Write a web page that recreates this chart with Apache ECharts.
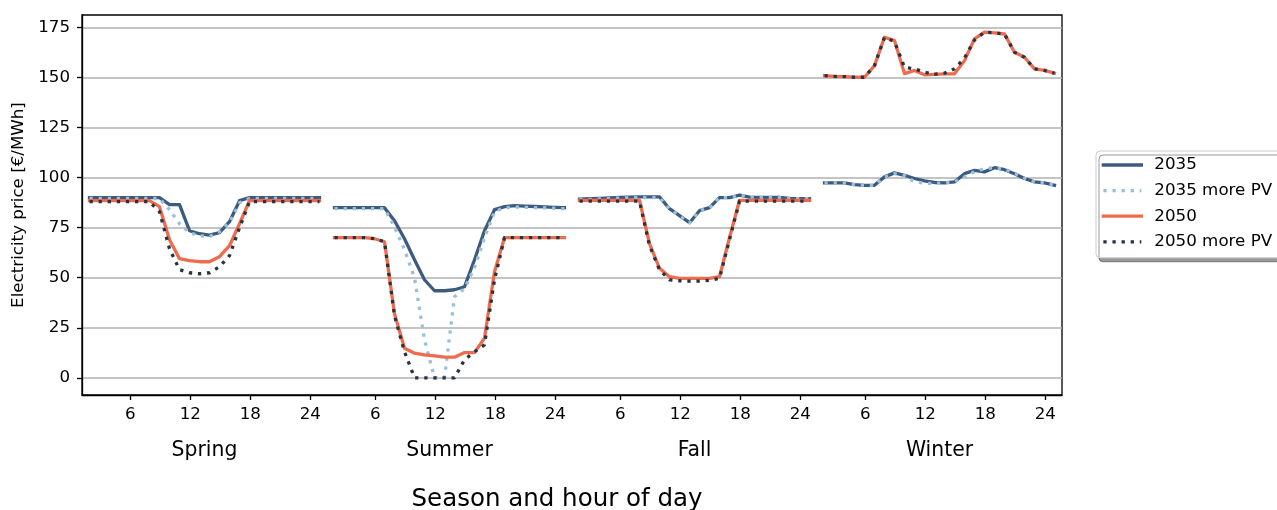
<!DOCTYPE html>
<html>
<head>
<meta charset="utf-8">
<script src="https://cdn.jsdelivr.net/npm/echarts@6/dist/echarts.min.js"></script>
<style>
html,body{margin:0;padding:0;background:#fff;}
#chart{width:1277px;height:510px;}
</style>
</head>
<body>
<div id="chart"></div>
<script>
// ---- data ----
const seasons = ['Spring', 'Summer', 'Fall', 'Winter'];
const tickHours = [6, 12, 18, 24];
const yTicks = [0, 25, 50, 75, 100, 125, 150, 175];
const seriesNames = ['2035', '2035 more PV', '2050', '2050 more PV'];

// hourly prices (24 values per season: Spring, Summer, Fall, Winter)
const price2035 = [
  [90, 90, 90, 90, 90, 90, 90, 90, 86.5, 86.5, 73.5, 72, 71.3, 72.5, 78, 88.5, 90, 90, 90, 90, 90, 90, 90, 90],
  [85, 85, 85, 85, 85, 85, 78.5, 69.5, 59, 49, 43.5, 43.5, 44, 45.5, 59, 73.5, 84, 85.5, 86, 85.8, 85.6, 85.4, 85.2, 85],
  [89.3, 89.5, 89.7, 89.9, 90.1, 90.3, 90.4, 90.4, 90.4, 84.5, 81, 77.5, 83.5, 85, 90, 90, 91.3, 90.3, 90.2, 90.2, 90.1, 89.6, 89.5, 89.5],
  [97.4, 97.4, 97.4, 96.5, 96.2, 96.2, 100.4, 102.4, 101.2, 99.6, 98.4, 97.6, 97.4, 97.9, 102, 103.7, 102.9, 105, 104, 102, 99.6, 97.9, 97.4, 96.2]
];
const price2035PV = [
  [89.6, 89.6, 89.6, 89.6, 89.6, 89.6, 89.6, 89.6, 84, 77, 72.5, 71, 70.5, 73, 77.5, 87.5, 89.6, 89.6, 89.6, 89.6, 89.6, 89.6, 89.6, 89.6],
  [84.5, 84.5, 84.5, 84.5, 84.5, 84.5, 75.5, 64, 50, 19, 0, 0, 40.5, 44.5, 55, 70, 83, 85, 85.3, 85.2, 85, 84.9, 84.7, 84.5],
  [89, 89.2, 89.4, 89.6, 89.8, 90, 90, 90, 90, 84.5, 81, 77.5, 83.5, 85, 90, 90, 91.3, 90.3, 90.2, 90.2, 90.1, 89.6, 89.5, 89.5],
  [97.4, 97.4, 97.4, 96.5, 96.2, 96.2, 100.4, 102, 101, 98, 97.2, 97.2, 97.4, 97.9, 100.4, 103, 104.5, 105, 104.2, 102.2, 99.8, 97.9, 97.4, 96.4]
];
const price2050 = [
  [88.5, 88.5, 88.5, 88.5, 88.5, 88.5, 88.5, 85.5, 69, 59.5, 58.5, 58, 58, 60.5, 66, 77, 88.5, 88.5, 88.5, 88.5, 88.5, 88.5, 88.5, 88.5],
  [70, 70, 70, 70, 69.5, 68, 32, 14.8, 12.3, 11.5, 11, 10.3, 10.3, 12.6, 12.6, 19.8, 53, 70, 70, 70, 70, 70, 70, 70],
  [88.7, 88.7, 88.7, 88.7, 88.7, 88.7, 88.7, 67, 54.7, 50.5, 49.7, 49.7, 49.7, 49.7, 50.5, 70, 88.7, 88.7, 88.7, 88.7, 88.7, 88.7, 88.7, 88.7],
  [151, 150.6, 150.5, 150.2, 150.2, 156, 170.2, 168.5, 152, 153.6, 151.4, 151.6, 151.9, 151.9, 158.5, 169.4, 172.7, 172.4, 171.8, 162.7, 160.2, 154.4, 153.6, 152.2]
];
const price2050PV = [
  [88, 88, 88, 88, 88, 88, 88, 83, 64.5, 54, 52.5, 52, 52.5, 55.5, 61, 75, 88, 88, 88, 88, 88, 88, 88, 88],
  [70, 70, 70, 70, 69.5, 68, 31, 13, 0, 0, 0, 0, 0, 9, 13, 16.5, 49, 70, 70, 70, 70, 70, 70, 70],
  [88.3, 88.3, 88.3, 88.3, 88.3, 88.3, 88.3, 66, 54, 49, 48.5, 48.3, 48.3, 48.7, 49.7, 69, 88.3, 88.3, 88.3, 88.3, 88.3, 88.3, 88.3, 88.3],
  [151, 150.6, 150.5, 150.2, 150.2, 156, 170.2, 168, 155.2, 154.4, 152.7, 151.7, 152.2, 154.4, 159.8, 168.8, 172.7, 172.4, 171.8, 162.7, 160.2, 154.4, 153.6, 152.2]
];

// ---- layout helpers ----
const seasonStep = 24.5;   // x offset between season blocks
const tickShift = -1.92;   // tick position offset relative to data index
const FONT = 'DejaVu Sans';

function buildData(values) {
  const data = [];
  values.forEach((arr, s) => {
    arr.forEach((v, j) => data.push([s * seasonStep + j, v]));
    if (s < values.length - 1) data.push([s * seasonStep + 23.75, null]);
  });
  return data;
}

const tickValues = [];
const tickText = {};
seasons.forEach((name, s) => {
  tickHours.forEach(h => {
    const v = +(s * seasonStep + h + tickShift).toFixed(2);
    tickValues.push(v);
    tickText[v.toFixed(2)] = String(h);
  });
});
const seasonValues = seasons.map((name, s) => s * seasonStep + 11.5);
const seasonText = {};
seasonValues.forEach((v, i) => { seasonText[v.toFixed(2)] = seasons[i]; });

const colors = ['#3d5a80', '#98c1d9', '#ee6c4d', '#293241'];
const dotted = [3.3, 5.8];
const allValues = [price2035, price2035PV, price2050, price2050PV];
const styles = ['solid', dotted, 'solid', dotted];

const series = seriesNames.map((name, i) => ({
  name: name,
  type: 'line',
  data: buildData(allValues[i]),
  symbol: 'none',
  showSymbol: false,
  connectNulls: false,
  animation: false,
  z: 2 + i,
  lineStyle: {
    color: colors[i],
    width: 3.3,
    type: styles[i],
    cap: styles[i] === 'solid' ? 'square' : 'butt',
    join: 'round'
  },
  itemStyle: { color: colors[i] }
}));

const xMin = -0.75, xMax = 97.25;

const option = {
  animation: false,
  backgroundColor: '#ffffff',
  textStyle: { fontFamily: FONT },
  grid: {
    left: 82, right: 215, top: 15, bottom: 115,
    outerBoundsMode: 'none',
    containLabel: false,
    show: true, borderColor: '#000', borderWidth: 1.3, backgroundColor: 'transparent'
  },
  legend: {
    orient: 'vertical',
    left: 1096, top: 151,
    padding: [4, 12, 6, 5.7],
    itemWidth: 38, itemHeight: 14, itemGap: 5.6,
    backgroundColor: '#ffffff',
    borderColor: '#cccccc', borderWidth: 1, borderRadius: 4,
    shadowColor: 'rgba(0,0,0,0.4)', shadowBlur: 0, shadowOffsetX: 3, shadowOffsetY: 4,
    itemStyle: { opacity: 0 },
    lineStyle: { width: 3.3 },
    textStyle: { fontSize: 16.7, color: '#000', fontFamily: FONT, lineHeight: 20, padding: [0, 0, 0, 8] },
    data: seriesNames
  },
  xAxis: [
    {
      type: 'value', min: xMin, max: xMax,
      name: 'Season and hour of day',
      nameLocation: 'middle', nameGap: 92,
      nameTextStyle: { fontSize: 24.5, color: '#000', fontFamily: FONT, padding: [0, 30, 0, 0] },
      axisLine: { show: true, onZero: false, lineStyle: { color: '#000', width: 1.3 } },
      axisTick: { show: true, customValues: tickValues, length: 5, lineStyle: { color: '#000', width: 1.3 } },
      axisLabel: {
        show: true, customValues: tickValues, margin: 11,
        fontSize: 16.7, color: '#000', fontFamily: FONT,
        formatter: v => tickText[Number(v).toFixed(2)] || ''
      },
      splitLine: { show: false }
    },
    {
      type: 'value', min: xMin, max: xMax, position: 'bottom', gridIndex: 0,
      axisLine: { show: false, onZero: false }, axisTick: { show: false }, splitLine: { show: false },
      axisLabel: {
        show: true, customValues: seasonValues, margin: 46,
        fontSize: 20.4, color: '#000', fontFamily: FONT,
        formatter: v => seasonText[Number(v).toFixed(2)] || ''
      }
    }
  ],
  yAxis: {
    type: 'value', min: -8.6, max: 181.3,
    name: 'Electricity price [€/MWh]',
    nameLocation: 'middle', nameGap: 52,
    nameTextStyle: { fontSize: 16.7, color: '#000', fontFamily: FONT },
    axisLine: { show: true, onZero: false, lineStyle: { color: '#000', width: 1.3 } },
    axisTick: { show: true, customValues: yTicks, length: 5, lineStyle: { color: '#000', width: 1.3 } },
    axisLabel: { show: true, customValues: yTicks, margin: 12, fontSize: 16.7, color: '#000', fontFamily: FONT },
    splitLine: { show: true, lineStyle: { color: '#b0b0b0', width: 1.5 } }
  },
  series: series
};

const chart = echarts.init(document.getElementById('chart'), null, { renderer: 'canvas' });
chart.setOption(option);
</script>
</body>
</html>
